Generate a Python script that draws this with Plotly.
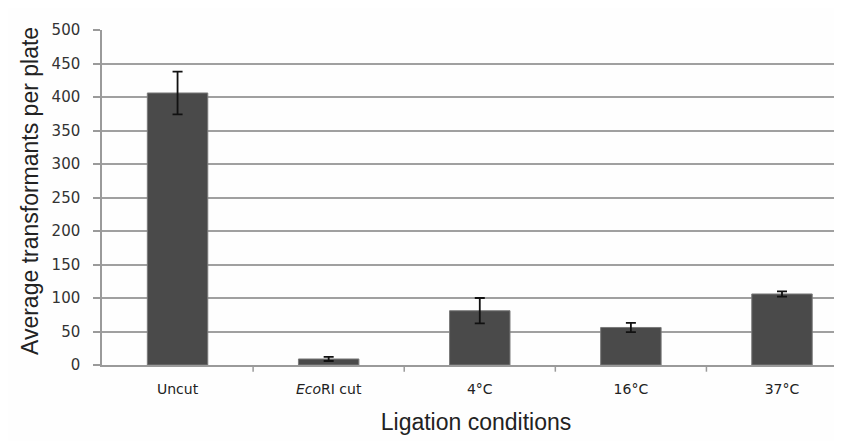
import plotly.graph_objects as go

categories = ["Uncut", "<i>Eco</i>RI cut", "4\u00b0C", "16\u00b0C", "37\u00b0C"]
values = [406, 9, 81, 56, 106]
errors = [32, 3, 19, 7, 4]
y_ticks = [0, 50, 100, 150, 200, 250, 300, 350, 400, 450, 500]

fig = go.Figure()
fig.add_trace(go.Bar(
    x=list(range(len(categories))),
    y=values,
    width=0.4,
    marker=dict(color="#4a4a4a", line=dict(color="#7a7a7a", width=1)),
    error_y=dict(type="data", array=errors, visible=True, color="#111111",
                 thickness=1.8, width=5),
))

fig.update_layout(
    width=842, height=441,
    margin=dict(l=94, r=0, t=22, b=84),
    paper_bgcolor="#fefefe", plot_bgcolor="#fefefe",
    showlegend=False,
    xaxis=dict(
        range=[-0.5, 4.45],
        tickmode="array",
        tickvals=list(range(len(categories))),
        ticktext=categories,
        showgrid=False,
        showline=True, linecolor="#9a9a9a", linewidth=1.5,
        ticks="",
        ticklabelstandoff=10,
        tickfont=dict(family="DejaVu Sans, Verdana", size=14, color="#222"),
        title=dict(text="Ligation conditions",
                   font=dict(family="Liberation Sans, Arial", size=23, color="#222"),
                   standoff=18),
        automargin=False,
        zeroline=False,
    ),
    yaxis=dict(
        range=[0, 500],
        tickvals=y_ticks,
        showgrid=True, gridcolor="#a0a0a0", gridwidth=1.5,
        showline=True, linecolor="#9a9a9a", linewidth=1.5,
        ticks="outside", ticklen=7, tickcolor="#9a9a9a", tickwidth=1.5,
        ticklabelstandoff=10,
        tickfont=dict(family="DejaVu Sans, Verdana", size=15, color="#333"),
        automargin=False,
        zeroline=False,
    ),
    annotations=[dict(
        text="Average transformants per plate",
        xref="paper", yref="paper", x=(22 - 94) / 748, y=(357.3 - 183) / 335.6,
        xanchor="center", yanchor="middle", textangle=-90, showarrow=False,
        font=dict(family="Liberation Sans, Arial", size=23, color="#222"),
    )],
)

# category boundary tick marks
for b in [0.5, 1.5, 2.5, 3.5]:
    fig.add_shape(type="line", xref="x", yref="paper", x0=b, x1=b, y0=0, y1=-0.02,
                  line=dict(color="#9a9a9a", width=1.5))

fig.write_html("out.html")
